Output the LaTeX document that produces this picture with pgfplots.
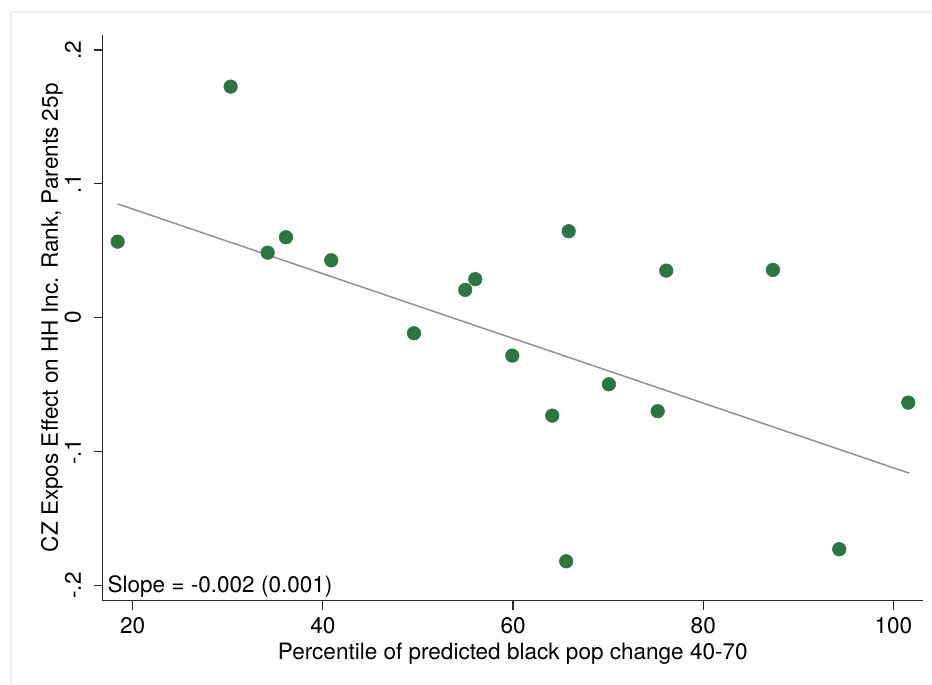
\documentclass[border=0pt]{standalone}
\usepackage{pgfplots}
\pgfplotsset{compat=1.18}
\usepackage{fontspec}
\setmainfont{TeX Gyre Heros}
\definecolor{dotgreen}{RGB}{46,117,68}
\definecolor{fitgray}{RGB}{145,145,145}
\definecolor{framec}{RGB}{232,238,242}
\definecolor{axc}{RGB}{40,40,40}
\newcommand{\ff}{\fontsize{16.9pt}{19pt}\selectfont}
\begin{document}
\begin{tikzpicture}
\useasboundingbox (-77.0pt,-63.2pt) rectangle (622.0pt,450.5pt);
\draw[framec, line width=1.5pt] (-68.8pt,-70pt) -- (-68.8pt,441.5pt) -- (640pt,441.5pt);
\begin{axis}[
  scale only axis,
  width=615.2pt, height=424.3pt,
  at={(0,0)}, anchor=south west,
  xmin=16.845, xmax=103.10,
  ymin=-0.2113, ymax=0.2112,
  axis lines*=left,
  axis line style={axc, line width=0.9pt},
  tick style={axc, line width=0.9pt},
  tick align=outside,
  major tick length=6.8pt,
  xtick={20,40,60,80,100},
  ytick={-0.2,-0.1,0,0.1,0.2},
  yticklabels={-.2,-.1,0,.1,.2},
  /pgf/number format/assume math mode=true,
  xticklabel style={font=\ff},
  xticklabel shift=2pt,
  yticklabel style={font=\ff, rotate=90, anchor=south},
  yticklabel shift=6pt,
  xlabel={Percentile of predicted black pop change 40-70},
  ylabel={CZ Expos Effect on HH Inc. Rank, Parents 25p},
  xlabel style={font=\ff, at={([yshift=-44.5pt]axis description cs:0.5,0)}, anchor=base},
  ylabel style={font=\ff, at={([xshift=-33.5pt]axis description cs:0,0.5)}, anchor=base},
  clip=false,
]
\addplot[fitgray, line width=1.1pt] coordinates {(18.42,0.0850) (101.66,-0.1161)};
\addplot[only marks, mark=*, mark size=5.1pt, dotgreen, mark options={draw=dotgreen, fill=dotgreen}] coordinates {
(18.42,0.0568)
(30.30,0.1726)
(34.20,0.0486)
(36.12,0.0601)
(40.88,0.0429)
(49.58,-0.0116)
(54.97,0.0208)
(56.03,0.0288)
(59.92,-0.0283)
(64.12,-0.0731)
(65.59,-0.1819)
(65.85,0.0646)
(70.08,-0.0497)
(75.21,-0.0698)
(76.11,0.0352)
(87.33,0.0357)
(94.30,-0.1729)
(101.56,-0.0634)
};
\node[font=\ff, anchor=base west, inner sep=0pt] at ([xshift=3.5pt,yshift=6.3pt]rel axis cs:0,0) {Slope = -0.002 (0.001)};
\end{axis}
\end{tikzpicture}
\end{document}
